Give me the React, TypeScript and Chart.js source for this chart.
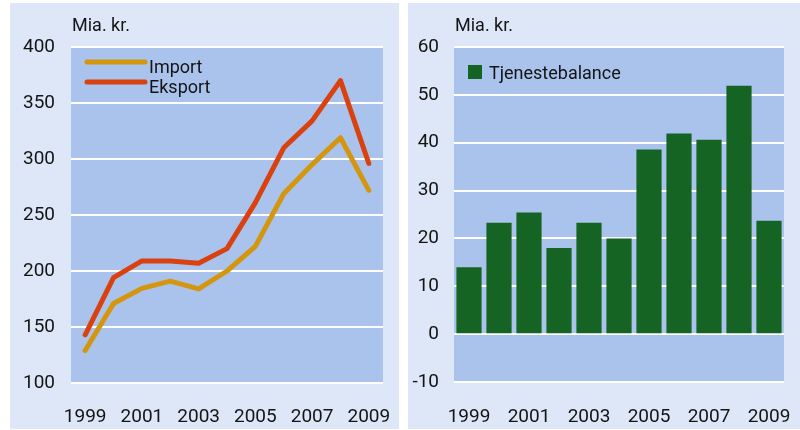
import React, { useEffect, useRef } from "react";
import { Chart, registerables } from "chart.js";

Chart.register(...registerables);

const years = ["1999", "2000", "2001", "2002", "2003", "2004", "2005", "2006", "2007", "2008", "2009"];
const importValues = [129, 171, 184.5, 191, 184, 200, 222, 269, 295, 319, 272];
const eksportValues = [143, 194, 209, 209, 207, 220, 261, 310, 334, 370, 296];
const tjenestebalance = [14.0, 23.3, 25.4, 18.0, 23.3, 20.0, 38.6, 41.9, 40.6, 51.9, 23.7];

const unitLabel = "Mia. kr.";
const FONT = "Roboto";
const PANEL_BG = "#dee7f7";
const PLOT_BG = "#a9c3ec";
const IMPORT_COLOR = "#d4960f";
const EKSPORT_COLOR = "#d9410f";
const BAR_COLOR = "#156423";
const TEXT = "#141414";

const plotBgPlugin = {
  id: "plotBg",
  beforeDraw(chart: any) {
    const { ctx, chartArea } = chart;
    ctx.save();
    ctx.fillStyle = PLOT_BG;
    ctx.fillRect(chartArea.left, chartArea.top, chartArea.right - chartArea.left, chartArea.bottom - chartArea.top);
    ctx.restore();
  },
};

const unitTitlePlugin = {
  id: "unitTitle",
  afterDraw(chart: any) {
    const { ctx, chartArea } = chart;
    ctx.save();
    ctx.font = `18px ${FONT}`;
    ctx.fillStyle = TEXT;
    ctx.textBaseline = "alphabetic";
    ctx.textAlign = "left";
    ctx.fillText(unitLabel, chartArea.left + 1, 28);
    ctx.restore();
  },
};

const lineLegendPlugin = {
  id: "lineLegend",
  afterDraw(chart: any) {
    const { ctx, chartArea } = chart;
    ctx.save();
    chart.data.datasets.forEach((ds: any, i: number) => {
      const y = chartArea.top + 15 + i * 20;
      const x0 = chartArea.left + 16;
      ctx.strokeStyle = ds.borderColor;
      ctx.lineWidth = 5;
      ctx.lineCap = "round";
      ctx.beginPath();
      ctx.moveTo(x0, y);
      ctx.lineTo(x0 + 58, y);
      ctx.stroke();
      ctx.font = `18px ${FONT}`;
      ctx.fillStyle = TEXT;
      ctx.textBaseline = "alphabetic";
      ctx.textAlign = "left";
      ctx.fillText(ds.label, x0 + 62, y + 10.5);
    });
    ctx.restore();
  },
};

const barLegendPlugin = {
  id: "barLegend",
  afterDraw(chart: any) {
    const { ctx, chartArea } = chart;
    ctx.save();
    const ds = chart.data.datasets[0];
    const x0 = chartArea.left + 14;
    const y0 = chartArea.top + 18;
    ctx.fillStyle = ds.backgroundColor;
    ctx.fillRect(x0, y0, 14, 14);
    ctx.font = `18px ${FONT}`;
    ctx.fillStyle = TEXT;
    ctx.textBaseline = "alphabetic";
    ctx.textAlign = "left";
    ctx.fillText(ds.label, x0 + 21, y0 + 14);
    ctx.restore();
  },
};

const xTicks = (padding: number) => ({
  autoSkip: false,
  maxRotation: 0,
  minRotation: 0,
  padding,
  color: TEXT,
  font: { family: FONT, size: 19 },
  callback: (_v: any, i: number) => (i % 2 === 0 ? years[i] : ""),
});

const fixX = (h: number) => (s: any) => {
  s.height = h;
  s.paddingLeft = 0;
  s.paddingRight = 0;
};

function LineChart() {
  const ref = useRef<HTMLCanvasElement>(null);
  useEffect(() => {
    const chart = new Chart(ref.current as HTMLCanvasElement, {
      type: "line",
      data: {
        labels: years,
        datasets: [
          {
            label: "Import",
            data: importValues,
            borderColor: IMPORT_COLOR,
            backgroundColor: IMPORT_COLOR,
            borderWidth: 5,
            pointRadius: 0,
            tension: 0,
            borderCapStyle: "round",
            borderJoinStyle: "round",
          },
          {
            label: "Eksport",
            data: eksportValues,
            borderColor: EKSPORT_COLOR,
            backgroundColor: EKSPORT_COLOR,
            borderWidth: 5,
            pointRadius: 0,
            tension: 0,
            borderCapStyle: "round",
            borderJoinStyle: "round",
          },
        ],
      },
      options: {
        responsive: false,
        animation: false,
        layout: { padding: { left: 0, right: 16, top: 44, bottom: 0 } },
        plugins: { legend: { display: false }, tooltip: { enabled: false }, title: { display: false } },
        scales: {
          x: {
            offset: true,
            grid: { display: false, drawTicks: false },
            border: { display: false },
            ticks: xTicks(23),
            afterFit: fixX(46),
          },
          y: {
            min: 100,
            max: 400,
            grid: { color: "#ffffff", lineWidth: 2, drawTicks: false },
            border: { display: false },
            ticks: { stepSize: 50, padding: 16, color: TEXT, font: { family: FONT, size: 19 } },
            afterFit: (s: any) => { s.width = 61; },
          },
        },
      },
      plugins: [plotBgPlugin, unitTitlePlugin, lineLegendPlugin],
    } as any);
    return () => chart.destroy();
  }, []);
  return (
    <canvas
      ref={ref}
      width={389}
      height={426}
      style={{ position: "absolute", left: 10, top: 3, width: 389, height: 426, background: PANEL_BG }}
    />
  );
}

function BarChart() {
  const ref = useRef<HTMLCanvasElement>(null);
  useEffect(() => {
    const chart = new Chart(ref.current as HTMLCanvasElement, {
      type: "bar",
      data: {
        labels: years,
        datasets: [
          {
            label: "Tjenestebalance",
            data: tjenestebalance,
            backgroundColor: BAR_COLOR,
            borderWidth: 0,
            barPercentage: 0.84,
            categoryPercentage: 1,
          },
        ],
      },
      options: {
        responsive: false,
        animation: false,
        layout: { padding: { left: 0, right: 16, top: 44, bottom: 0 } },
        plugins: { legend: { display: false }, tooltip: { enabled: false }, title: { display: false } },
        scales: {
          x: {
            grid: { display: false, drawTicks: false },
            border: { display: false },
            ticks: xTicks(24),
            afterFit: fixX(47),
          },
          y: {
            min: -10,
            max: 60,
            grid: { color: "#ffffff", lineWidth: 2, drawTicks: false },
            border: { display: false },
            ticks: { stepSize: 10, padding: 15, color: TEXT, font: { family: FONT, size: 19 } },
            afterFit: (s: any) => { s.width = 46; },
          },
        },
      },
      plugins: [plotBgPlugin, unitTitlePlugin, barLegendPlugin],
    } as any);
    return () => chart.destroy();
  }, []);
  return (
    <canvas
      ref={ref}
      width={392}
      height={426}
      style={{ position: "absolute", left: 408, top: 3, width: 392, height: 426, background: PANEL_BG }}
    />
  );
}

export default function App() {
  return (
    <div style={{ position: "fixed", left: 0, top: 0, width: 800, height: 430, background: "#ffffff", overflow: "hidden" }}>
      <LineChart />
      <BarChart />
    </div>
  );
}
